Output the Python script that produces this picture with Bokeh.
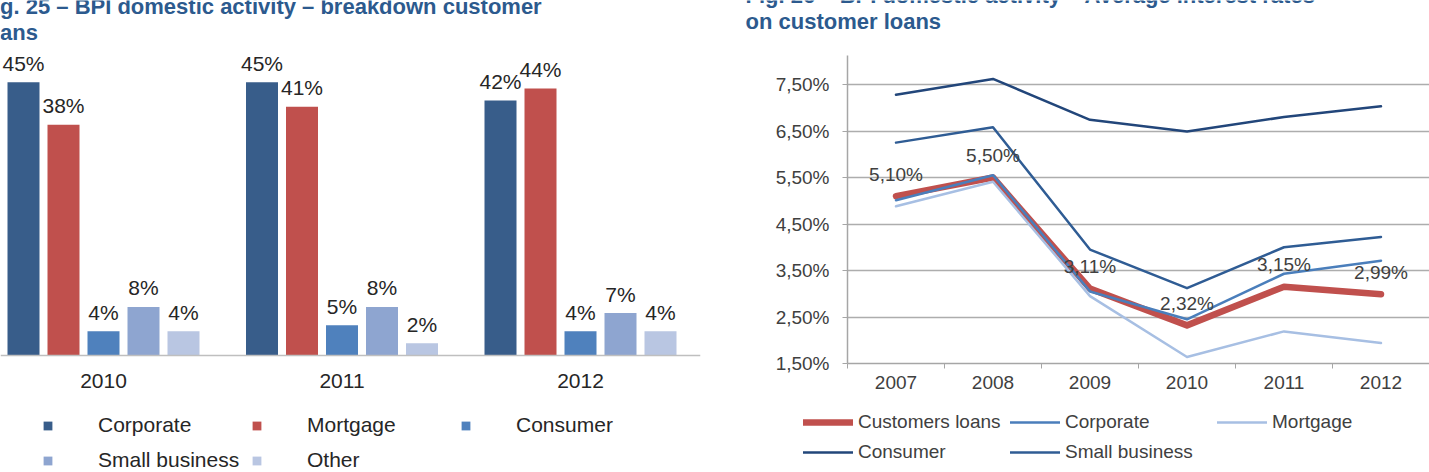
from bokeh.plotting import figure
from bokeh.layouts import column, row
from bokeh.models import (Range1d, FixedTicker, Legend, LegendItem, ColumnDataSource,
                          CustomJSTickFormatter, Span)
from bokeh.core.properties import value
from bokeh.embed import file_html
from bokeh.resources import INLINE

# ---------------- data ----------------
left_title_lines = ["Fig. 25 \u2013 BPI domestic activity \u2013 breakdown customer", "loans"]
right_title_lines = ["Fig. 26 \u2013 BPI domestic activity \u2013 Average interest rates", "on customer loans"]

bar_years = ["2010", "2011", "2012"]
bar_segments = ["Corporate", "Mortgage", "Consumer", "Small business", "Other"]
corporate_share = [45, 45, 42]
mortgage_share = [38, 41, 44]
consumer_share = [4, 5, 4]
small_business_share = [8, 8, 7]
other_share = [4, 2, 4]

rate_years = [2007, 2008, 2009, 2010, 2011, 2012]
rate_series_names = ["Customers loans", "Corporate", "Mortgage", "Consumer", "Small business"]
customers_loans_rate = [5.10, 5.50, 3.11, 2.32, 3.15, 2.99]
corporate_rate = [5.01, 5.55, 3.05, 2.45, 3.43, 3.71]
mortgage_rate = [4.88, 5.41, 2.95, 1.64, 2.19, 1.94]
consumer_rate = [7.28, 7.62, 6.74, 6.49, 6.80, 7.03]
small_business_rate = [6.25, 6.58, 3.95, 3.12, 4.00, 4.22]
rate_ticks = [1.5, 2.5, 3.5, 4.5, 5.5, 6.5, 7.5]

# ---------------- styles ----------------
FONT = "Liberation Sans"
TITLE_COLOR = "#2c5a8e"
TXT = "#262626"
W_L, W_R = 740, 689
H_T = 45          # title strip
H_C = 355         # chart strip
H_L = 472 - H_T - H_C   # legend strip
FRAME_TOP = 10
FRAME_BOTTOM_BORDER = 37
FRAME_H = H_C - FRAME_TOP - FRAME_BOTTOM_BORDER   # 308
NAN = float("nan")


def blank(fig):
    fig.xgrid.visible = False
    fig.ygrid.visible = False
    fig.outline_line_color = None
    fig.background_fill_color = "white"
    fig.border_fill_color = "white"


def strip(width, height):
    f = figure(width=width, height=height, x_range=Range1d(0, width), y_range=Range1d(0, height),
               x_axis_location=None, y_axis_location=None, min_border=0,
               output_backend="svg", toolbar_location=None)
    blank(f)
    return f


# ---------------- title strips ----------------
def title_fig(width, lines, x0, ys):
    t = strip(width, H_T)
    t.text(x=[x0] * len(lines), y=ys, text=lines, text_font=value(FONT),
           text_font_style="bold", text_font_size="22px", text_color=TITLE_COLOR,
           text_align="left", text_baseline="middle")
    return t


tl = title_fig(W_L, left_title_lines, -20, [39, 13])
tr = title_fig(W_R, right_title_lines, 5, [50, 24])

# ---------------- left: grouped bars ----------------
px_per_group = 238.5
px_per_pct = 6.07
x_start = -103 / px_per_group
y_start = -8 / px_per_pct
pl = figure(width=W_L, height=H_C, x_range=Range1d(x_start, x_start + 700 / px_per_group),
            y_range=Range1d(y_start, y_start + FRAME_H / px_per_pct), y_axis_location=None,
            min_border_left=0, min_border_right=40, min_border_top=FRAME_TOP,
            min_border_bottom=FRAME_BOTTOM_BORDER,
            output_backend="svg", toolbar_location=None)
blank(pl)

bar_values = [corporate_share, mortgage_share, consumer_share, small_business_share, other_share]
bar_colors = ["#385d8a", "#c0504d", "#4f81bd", "#8ea5d0", "#b9c6e2"]
step = 40 / px_per_group
bw = 32 / px_per_group
for k, (name, vals, col) in enumerate(zip(bar_segments, bar_values, bar_colors)):
    xs = [i + (k - 2) * step for i in range(len(bar_years))]
    src = ColumnDataSource(dict(x=xs, top=vals, label=[f"{v}%" for v in vals]))
    pl.vbar(x="x", top="top", bottom=0, width=bw, source=src, fill_color=col, line_color=None)
    pl.text(x="x", y="top", text="label", source=src, text_align="center",
            text_baseline="middle", y_offset=-19, text_font=value(FONT),
            text_font_size="21px", text_color=TXT)

pl.add_layout(Span(location=0, dimension="width", line_color="#bfbfbf", line_width=1.5))
pl.xaxis.ticker = FixedTicker(ticks=list(range(len(bar_years))))
pl.xaxis.major_label_overrides = {i: y for i, y in enumerate(bar_years)}
pl.xaxis.axis_line_color = None
pl.xaxis.major_tick_line_color = None
pl.xaxis.minor_tick_line_color = None
pl.xaxis.major_label_text_font = FONT
pl.xaxis.major_label_text_font_size = "21px"
pl.xaxis.major_label_text_color = TXT
pl.xaxis.major_label_standoff = 4

# ---------------- right: lines ----------------
px_per_rate = 46.5
pr = figure(width=W_R, height=H_C, x_range=Range1d(2006.5, 2012.5),
            y_range=Range1d(1.5, 1.5 + FRAME_H / px_per_rate),
            min_border_left=107, min_border_right=0, min_border_top=FRAME_TOP,
            min_border_bottom=FRAME_BOTTOM_BORDER,
            output_backend="svg", toolbar_location=None)
blank(pr)
pr.ygrid.visible = True
pr.ygrid.grid_line_color = "#adadad"
pr.ygrid.grid_line_width = 1.5

rate_values = [customers_loans_rate, corporate_rate, mortgage_rate, consumer_rate, small_business_rate]
rate_colors = ["#c0504d", "#4a7ebb", "#a7bfe3", "#22467a", "#2f5c94"]
rate_widths = [6.5, 2.5, 2.5, 2.5, 2.5]
for name, vals, col, lw in zip(rate_series_names, rate_values, rate_colors, rate_widths):
    pr.line(x=rate_years, y=vals, line_color=col, line_width=lw,
            line_join="round", line_cap="round")

pr.text(x=rate_years, y=customers_loans_rate,
        text=[f"{v:.2f}".replace(".", ",") + "%" for v in customers_loans_rate],
        text_align="center", text_baseline="middle", y_offset=-22,
        text_font=value(FONT), text_font_size="19px", text_color="#404040")

pr.yaxis.ticker = FixedTicker(ticks=rate_ticks)
pr.yaxis.formatter = CustomJSTickFormatter(code="return tick.toFixed(2).replace('.', ',') + '%';")
pr.yaxis.axis_line_color = "#a6a6a6"
pr.yaxis.axis_line_width = 1.5
pr.yaxis.major_tick_line_color = "#a6a6a6"
pr.yaxis.major_tick_out = 5
pr.yaxis.major_tick_in = 0
pr.yaxis.minor_tick_line_color = None
pr.yaxis.major_label_text_font = FONT
pr.yaxis.major_label_text_font_size = "19px"
pr.yaxis.major_label_text_color = "#404040"
pr.yaxis.major_label_standoff = 13

pr.xaxis.ticker = FixedTicker(ticks=rate_years, minor_ticks=[y + 0.5 for y in [2006] + rate_years])
pr.xaxis.formatter = CustomJSTickFormatter(code="return tick.toFixed(0);")
pr.xaxis.axis_line_color = "#a6a6a6"
pr.xaxis.axis_line_width = 1.5
pr.xaxis.major_tick_line_color = None
pr.xaxis.major_tick_out = 0
pr.xaxis.minor_tick_line_color = "#a6a6a6"
pr.xaxis.minor_tick_out = 5
pr.xaxis.minor_tick_in = 0
pr.xaxis.major_label_text_font = FONT
pr.xaxis.major_label_text_font_size = "19px"
pr.xaxis.major_label_text_color = "#404040"
pr.xaxis.major_label_standoff = 7

# ---------------- legend strips (legend keys only, no data drawn) ----------------
ll = strip(W_L, H_L)
left_items = []
for name, col in zip(bar_segments, bar_colors):
    r = ll.vbar(x=[NAN], top=[NAN], width=1, fill_color=col, line_color=None)
    left_items.append(LegendItem(label=name, renderers=[r]))
leg_l = Legend(items=left_items, location=(42, 0), orientation="horizontal", ncols=3,
               glyph_width=11, glyph_height=11, label_standoff=45, label_width=142,
               label_height=24, spacing=11, padding=0, margin=0,
               border_line_color=None, background_fill_alpha=0,
               label_text_font=FONT, label_text_font_size="21px", label_text_color=TXT)
ll.add_layout(leg_l)

lr = strip(W_R, H_L)
right_items = []
for name, col, lw in zip(rate_series_names, rate_colors, rate_widths):
    r = lr.line(x=[NAN], y=[NAN], line_color=col, line_width=lw, line_cap="round")
    right_items.append(LegendItem(label=name, renderers=[r]))
leg_r = Legend(items=right_items, location=(63, 9), orientation="horizontal", ncols=3,
               glyph_width=50, glyph_height=22, label_standoff=5, label_width=144,
               label_height=22, spacing=8, padding=0, margin=0,
               border_line_color=None, background_fill_alpha=0,
               label_text_font=FONT, label_text_font_size="19px", label_text_color="#404040")
lr.add_layout(leg_r)

layout = column(row(tl, tr), row(pl, pr), row(ll, lr))
open("out.html", "w").write(file_html(layout, INLINE))
